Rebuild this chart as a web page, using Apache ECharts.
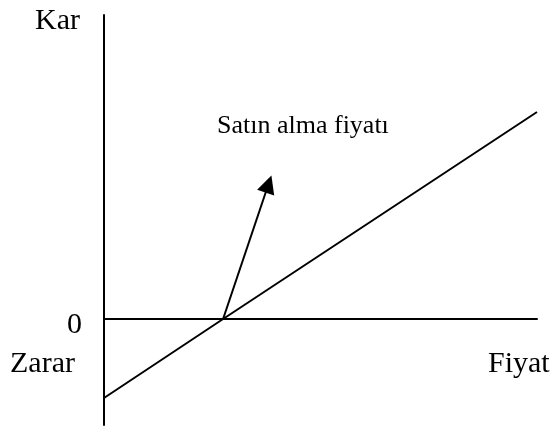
<!DOCTYPE html>
<html>
<head>
<meta charset="utf-8">
<script src="https://cdn.jsdelivr.net/npm/echarts@6/dist/echarts.min.js"></script>
<style>
  html, body { margin: 0; padding: 0; background: #fff; }
  #chart { width: 555px; height: 427px; }
</style>
</head>
<body>
<div id="chart"></div>
<script>
// price axis (x) and profit/loss (y)
const prices = [0, 11, 40];
const profit = [-7.9, 0, 20.7];
// arrow from the break-even point pointing to the label
const arrowFrom = [11, 0];
const arrowTo = [15.2, 13.5];
const yTickLabels = [0];

const serif = "'Liberation Serif', 'Times New Roman', serif";

const chart = echarts.init(document.getElementById('chart'));

chart.setOption({
  animation: false,
  backgroundColor: '#fff',
  grid: { left: 104, right: 18, top: 15, bottom: 2, outerBoundsMode: 'none' },
  xAxis: {
    type: 'value',
    min: 0,
    max: 40,
    axisLine: { onZero: true, lineStyle: { color: '#000', width: 2 } },
    axisTick: { show: false },
    axisLabel: { show: false },
    splitLine: { show: false }
  },
  yAxis: {
    type: 'value',
    min: -10.6,
    max: 30.4,
    axisLine: { show: true, lineStyle: { color: '#000', width: 2 } },
    axisTick: { show: false },
    axisLabel: {
      customValues: yTickLabels,
      color: '#000',
      fontFamily: serif,
      fontSize: 30,
      margin: 22,
      verticalAlign: 'top',
      lineHeight: 12
    },
    splitLine: { show: false }
  },
  series: [
    {
      type: 'line',
      data: prices.map((p, i) => [p, profit[i]]),
      symbol: 'none',
      lineStyle: { color: '#000', width: 2 }
    },
    {
      type: 'lines',
      coordinateSystem: 'cartesian2d',
      data: [{ coords: [arrowFrom, arrowTo] }],
      symbol: ['none', 'triangle'],
      symbolSize: [13, 18],
      lineStyle: { color: '#000', width: 2, opacity: 1 },
      itemStyle: { color: '#000' }
    }
  ],
  graphic: [
    { type: 'text', left: 35, top: 6, style: { text: 'Kar', font: '30px ' + serif, fill: '#000' } },
    { type: 'text', left: 10, top: 349, style: { text: 'Zarar', font: '30px ' + serif, fill: '#000' } },
    { type: 'text', left: 488, top: 349, style: { text: 'Fiyat', font: '30px ' + serif, fill: '#000' } },
    { type: 'text', left: 217, top: 113, style: { text: 'Satın alma fiyatı', font: '26px ' + serif, fill: '#000' } }
  ]
});
</script>
</body>
</html>
